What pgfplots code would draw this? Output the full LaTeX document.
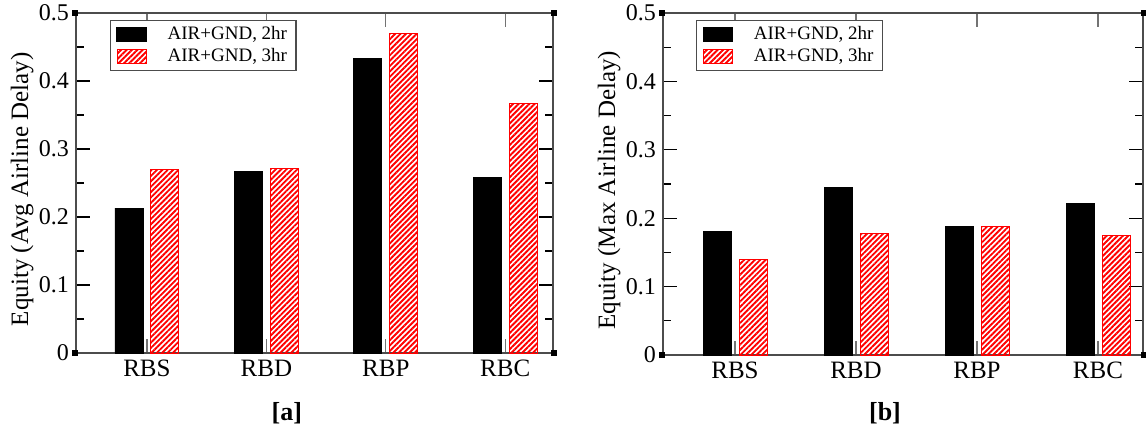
\documentclass[border=0pt]{standalone}
\usepackage{fontspec}
\setmainfont{Liberation Serif}
\usepackage{pgfplots}
\pgfplotsset{compat=1.18}
\usetikzlibrary{patterns.meta,calc}

\pgfplotsset{
  eqaxis/.style={
    scale only axis, width=238.5pt, height=170pt,
    ybar=4pt, bar width=14pt,
    ymin=0, ymax=0.5, ytick={0,0.1,0.2,0.3,0.4,0.5}, minor y tick num=1,
    xmin=0.406, xmax=4.40, xtick={1,2,3,4}, xticklabels={RBS,RBD,RBP,RBC},
    xtick style={draw=black!55},
    ytick style={draw=black},
    tick align=inside, major tick length=7pt, minor tick length=4pt,
    axis line style={black!70, line width=0.7pt},
    every tick/.style={line width=0.6pt},
    /pgf/number format/assume math mode=true,
    yticklabel style={font=\fontsize{12}{14}\selectfont},
    xticklabel style={font=\fontsize{12.5}{14}\selectfont},
    ylabel style={font=\fontsize{12.5}{14}\selectfont, at={(axis description cs:-0.1006,0.482)}, anchor=base},
    legend image code/.code={\draw[#1] (0pt,-3.5pt) rectangle (14.5pt,3.5pt);},
    legend style={at={(0.071,0.98)}, anchor=north west,
      font=\fontsize{9.5}{11}\selectfont, draw=black!70, line width=0.6pt,
      inner xsep=3pt, inner ysep=1.5pt, row sep=0pt,
      nodes={inner sep=1.5pt},
      /tikz/every odd column/.append style={column sep=9pt}},
    legend cell align=left,
    clip=false,
    after end axis/.code={
      \fill[black] ($(rel axis cs:0,0)+(-2pt,-1.5pt)$) rectangle ++(3pt,3pt);
      \fill[black] ($(rel axis cs:0,1)+(-2pt,-1.5pt)$) rectangle ++(3pt,3pt);
      \fill[black] ($(rel axis cs:1,0)+(-1pt,-1.5pt)$) rectangle ++(3pt,3pt);
      \fill[black] ($(rel axis cs:1,1)+(-1pt,-1.5pt)$) rectangle ++(3pt,3pt);
    },
  },
  hot/.style={draw=red, line width=0.5pt,
    pattern={Lines[angle=45,distance=1.9pt,line width=0.95pt]}, pattern color=red},
  dark/.style={draw=black, fill=black},
}

\begin{document}
\begin{tikzpicture}
% panel a
\begin{axis}[eqaxis, ylabel={Equity (Avg Airline Delay)}]
  \addplot[dark] coordinates {(1,0.213) (2,0.267) (3,0.433) (4,0.258)};
  \addplot[hot]  coordinates {(1,0.270) (2,0.271) (3,0.470) (4,0.367)};
  \legend{AIR+GND{,} 2hr, AIR+GND{,} 3hr}
  \node[font=\fontsize{13}{15}\selectfont\bfseries] at (rel axis cs:0.442,0) [yshift=-30pt] {[a]};
\end{axis}
% panel b
\begin{axis}[eqaxis, xshift=293.5pt, yshift=-1pt, height=171pt, width=240pt,
    xmin=0.405, xmax=4.372, legend style={at={(0.069,0.98)}},
    ylabel style={at={(axis description cs:-0.1,0.482)}},
    ylabel={Equity (Max Airline Delay)}]
  \addplot[dark] coordinates {(1,0.180) (2,0.245) (3,0.188) (4,0.222)};
  \addplot[hot]  coordinates {(1,0.139) (2,0.177) (3,0.188) (4,0.175)};
  \legend{AIR+GND{,} 2hr, AIR+GND{,} 3hr}
  \node[font=\fontsize{13}{15}\selectfont\bfseries] at (rel axis cs:0.4625,0) [yshift=-29pt] {[b]};
\end{axis}
\pgfresetboundingbox
\path[use as bounding box] (-38pt,-38pt) rectangle (535pt,176.5pt);
\end{tikzpicture}
\end{document}
